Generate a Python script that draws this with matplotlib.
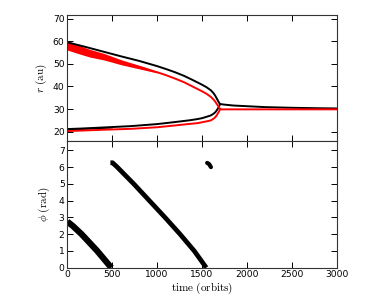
import matplotlib
matplotlib.use("Agg")
import matplotlib.pyplot as plt
import numpy as np

plt.rcParams['mathtext.fontset'] = 'cm'
plt.rcParams['font.family'] = ['DejaVu Sans']

# ---- top panel: radii (au) ----
t_black_up = [0, 200, 400, 600, 800, 1000, 1100, 1200, 1300, 1400, 1500, 1550, 1600, 1630,
              1650, 1665, 1680, 1690, 1697, 1700, 1710, 1750, 1850, 2000, 2200, 2500, 2800, 3000]
r_black_up = [59.5, 57.5, 55.4, 53.3, 51.3, 49.0, 47.7, 46.3, 44.7, 42.8, 40.8, 39.7, 38.3, 37.0,
              35.8, 34.7, 33.6, 32.9, 32.5, 32.3, 32.2, 32.0, 31.6, 31.3, 30.9, 30.6, 30.4, 30.3]

t_black_lo = [0, 200, 400, 707, 1000, 1200, 1366, 1448, 1500, 1550, 1597, 1630, 1650,
              1665, 1680, 1690, 1697, 1700]
r_black_lo = [21.2, 21.5, 21.9, 22.5, 23.4, 24.3, 25.1, 25.6, 26.0, 26.6, 27.2, 28.0, 28.7,
              29.5, 30.4, 31.2, 31.8, 32.3]

t_red_up = [0, 200, 409, 600, 854, 1000, 1100, 1200, 1300, 1400, 1500, 1550, 1600, 1630,
            1650, 1665, 1680, 1690, 1697, 1700, 1710, 2000, 2500, 3000]
r_red_up = [58.2, 56.0, 53.2, 50.8, 48.0, 46.3, 45.0, 43.5, 41.9, 39.9, 37.9, 36.8, 35.4, 34.2,
            33.2, 32.3, 31.4, 30.8, 30.3, 30.0, 29.9, 29.9, 29.9, 29.9]

# scatter envelope of the early-time orbits
t_red_band = [0, 100, 250, 409, 600, 854, 1000]
r_red_band_hi = [60.3, 58.6, 56.4, 54.6, 51.8, 48.7, 46.6]
r_red_band_lo = [56.1, 54.8, 53.0, 51.7, 49.6, 47.3, 46.0]

t_black_band = [0, 150, 300, 500]
r_black_band_hi = [21.8, 21.9, 22.0, 22.2]
r_black_band_lo = [20.8, 21.0, 21.3, 21.7]

t_red_lo = [0, 200, 400, 707, 1000, 1200, 1366, 1448, 1500, 1550, 1597, 1630, 1650, 1665,
            1680, 1690, 1697, 1700]
r_red_lo = [20.3, 20.6, 20.9, 21.3, 22.0, 22.8, 23.5, 23.8, 24.2, 24.6, 25.0, 25.8, 26.5, 27.3,
            28.3, 29.0, 29.6, 30.0]

# ---- bottom panel: phase angle (rad) ----
t_phi_1 = [0, 59, 159, 333, 490]
phi_1 = [2.75, 2.5, 2.0, 1.0, 0.0]
t_phi_2 = [480, 504, 556, 740, 914, 1088, 1256, 1414, 1548]
phi_2 = [6.26, 6.26, 6.0, 5.0, 4.0, 3.0, 2.0, 1.0, 0.0]
t_phi_3 = [1558, 1580, 1600]
phi_3 = [6.25, 6.18, 6.0]

fig = plt.figure(figsize=(3.74, 3.08), dpi=100)
left, width = 0.18, 0.72
ax1 = fig.add_axes([left, 1 - 141.3 / 308, width, 126.6 / 308])
ax2 = fig.add_axes([left, 1 - 267.7 / 308, width, 126.4 / 308])

ax1.fill_between(t_red_band, r_red_band_lo, r_red_band_hi, color='red', lw=0)
ax1.fill_between(t_black_band, r_black_band_lo, r_black_band_hi, color='black', lw=0)
ax1.plot(t_black_up, r_black_up, color='black', lw=1.4)
ax1.plot(t_black_lo, r_black_lo, color='black', lw=1.4)
ax1.plot(t_red_up, r_red_up, color='red', lw=1.4)
ax1.plot(t_red_lo, r_red_lo, color='red', lw=1.4)
ax1.set_xlim(0, 3000)
ax1.set_ylim(15.8, 71.7)
ax1.set_yticks([20, 30, 40, 50, 60, 70])
ax1.set_xticks([0, 500, 1000, 1500, 2000, 2500, 3000])
ax1.tick_params(labelbottom=False)
ax1.set_ylabel(r'$r\ \mathrm{(au)}$', fontsize=8, labelpad=3)

ax2.plot(t_phi_1, phi_1, color='black', lw=4.5, solid_capstyle='butt')
ax2.plot(t_phi_2, phi_2, color='black', lw=3.4, solid_capstyle='butt', solid_joinstyle='round')
ax2.plot(t_phi_3, phi_3, color='black', lw=3.0, solid_capstyle='round')
ax2.set_xlim(0, 3000)
ax2.set_ylim(0, 7.54)
ax2.set_yticks([0, 1, 2, 3, 4, 5, 6, 7])
ax2.set_xticks([0, 500, 1000, 1500, 2000, 2500, 3000])
ax2.set_xlabel(r'$\mathrm{time\ (orbits)}$', fontsize=8, labelpad=1)
ax2.set_ylabel(r'$\phi\ \mathrm{(rad)}$', fontsize=8, labelpad=5)

for ax in (ax1, ax2):
    ax.tick_params(direction='in', top=True, right=True, length=4, width=0.7,
                   labelsize=6.6, pad=2)
    for s in ax.spines.values():
        s.set_linewidth(0.8)
        s.set_color('#333333')

fig.savefig('out.png', dpi=100)
